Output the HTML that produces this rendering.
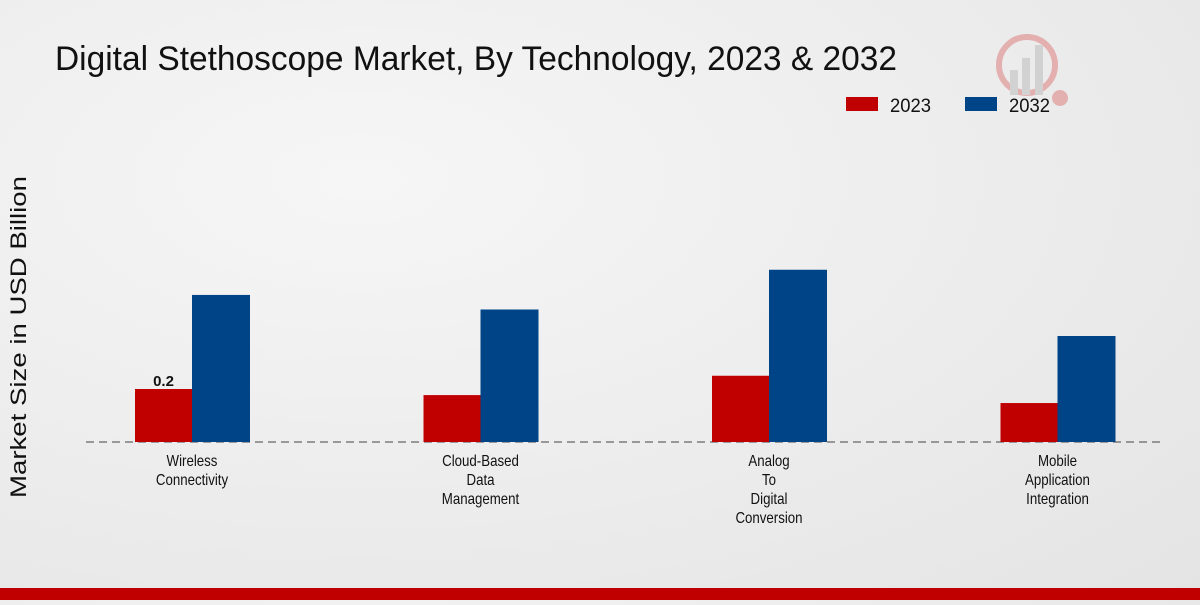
<!DOCTYPE html>
<html><head><meta charset="utf-8"><style>
body{margin:0;width:1200px;height:600px;overflow:hidden;background:radial-gradient(ellipse at 30% 30%,#f6f6f6,#e4e4e4);font-family:"Liberation Sans",sans-serif;}
</style></head><body>
<svg width="1200" height="600" xmlns="http://www.w3.org/2000/svg">
<text x="55" y="70" font-size="34" fill="#111" textLength="842" lengthAdjust="spacingAndGlyphs">Digital Stethoscope Market, By Technology, 2023 &amp; 2032</text>
<g opacity="0.25">
<circle cx="1027" cy="65" r="28" fill="none" stroke="#c00" stroke-width="6"/>
<rect x="1010" y="70" width="8" height="25" fill="#888"/><rect x="1022" y="58" width="8" height="37" fill="#888"/><rect x="1035" y="45" width="8" height="50" fill="#888"/>
<circle cx="1060" cy="98" r="8" fill="#c00"/>
</g>
<g>
<rect x="846" y="97" width="32" height="14" fill="#c00000"/>
<text x="890" y="112" font-size="19" fill="#111" textLength="41" lengthAdjust="spacingAndGlyphs">2023</text>
<rect x="965" y="97" width="32" height="14" fill="#004488"/>
<text x="1009" y="112" font-size="19" fill="#111" textLength="41" lengthAdjust="spacingAndGlyphs">2032</text>
</g>
<text transform="translate(26,337) rotate(-90)" text-anchor="middle" font-size="22" fill="#111" textLength="322" lengthAdjust="spacingAndGlyphs">Market Size in USD Billion</text>
<g id="plot"></g>
<rect x="0" y="588" width="1200" height="12" fill="#c00000"/>
</svg>
<script>
const categories=[["Wireless","Connectivity"],["Cloud-Based","Data","Management"],["Analog","To","Digital","Conversion"],["Mobile","Application","Integration"]];
const values2023=[0.2,0.177,0.25,0.147];
const values2032=[0.555,0.50,0.65,0.40];
const NS="http://www.w3.org/2000/svg";
const g=document.getElementById('plot');
const base=442,scale=265,x0=192,step=288.5,bw=57,sx=0.83;
const y=v=>base-v*scale;
const xc=i=>x0+i*step;
function mk(t,a,p){const e=document.createElementNS(NS,t);for(const k in a)e.setAttribute(k,a[k]);(p||g).appendChild(e);return e;}
const ax=mk('line',{x1:86,x2:1165,y1:base,y2:base,stroke:'#444','stroke-dasharray':'8,5','stroke-width':1});


const lg=mk('g',{transform:'scale('+sx+',1)'});
categories.forEach((c,i)=>{
 const r=mk('rect',{x:xc(i)-bw,y:y(values2023[i]),width:bw,height:values2023[i]*scale,fill:'#c00000'});
 
 
 const b=mk('rect',{x:xc(i),y:y(values2032[i]),width:bw+1,height:values2032[i]*scale,fill:'#004488'});
 
 
 c.forEach((l,j)=>{const t=mk('text',{x:xc(i)/sx,y:466+j*19,'text-anchor':'middle','font-size':16,fill:'#111'},lg);t.textContent=l;
 
 });
});
const lbl=mk('text',{x:xc(0)-bw/2,y:y(values2023[0])-3,'text-anchor':'middle','font-size':15,'font-weight':'bold',fill:'#111'});
lbl.textContent=values2023[0];


</script>
</body></html>
